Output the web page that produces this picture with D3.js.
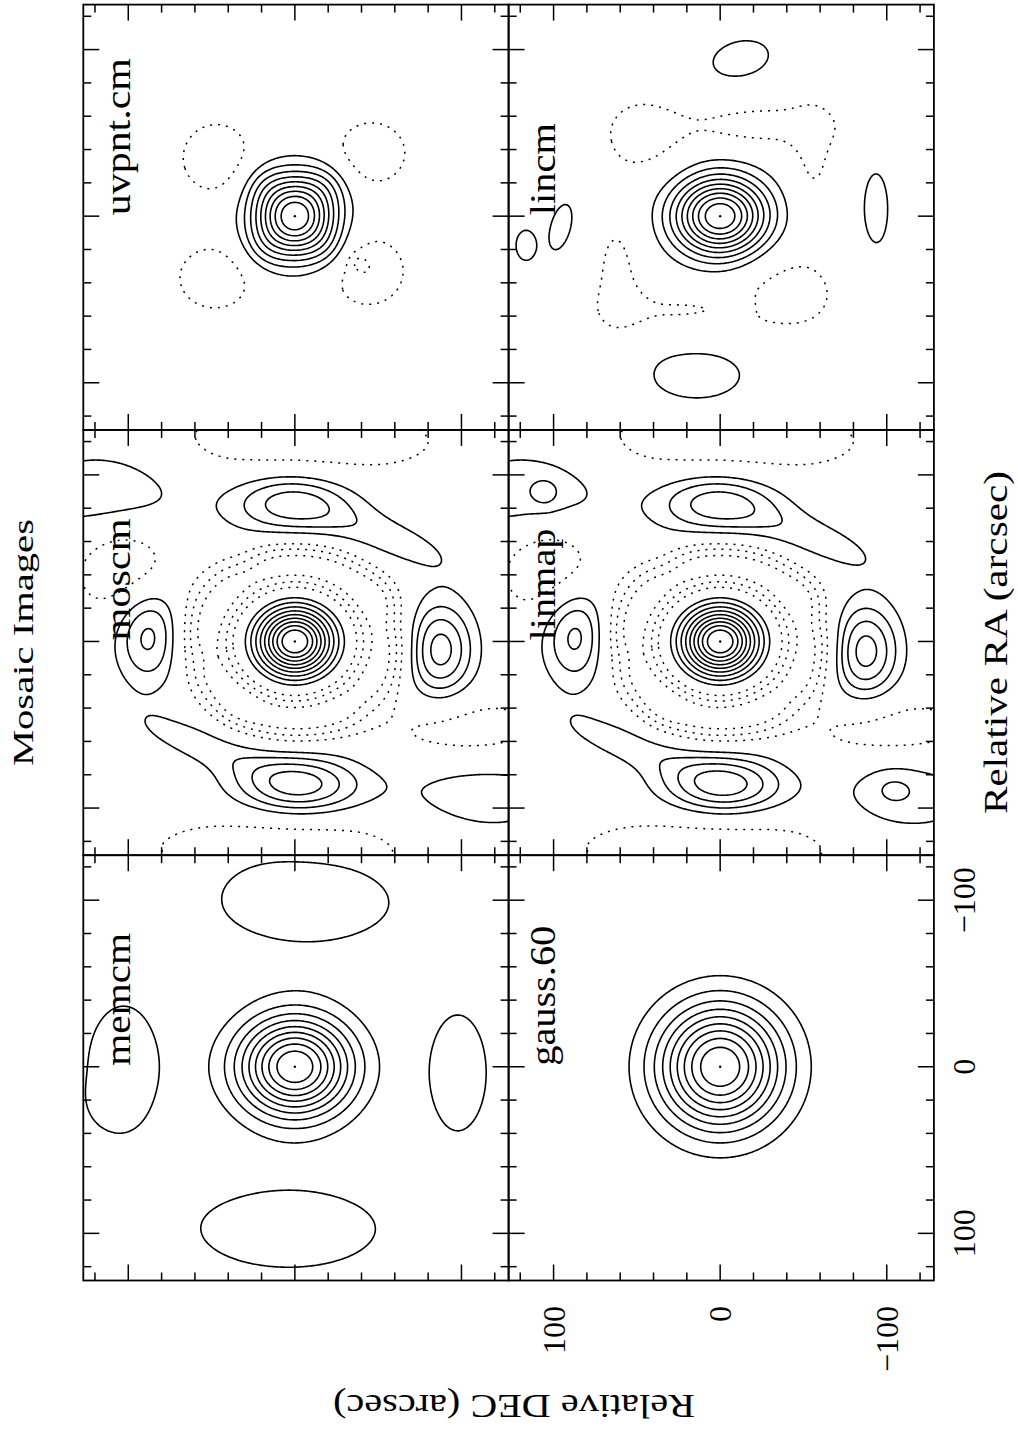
<!DOCTYPE html>
<html>
<head>
<meta charset="utf-8">
<script src="https://cdn.jsdelivr.net/npm/d3@7"></script>
<style>
  html, body { margin: 0; padding: 0; background: #fff; }
  svg { display: block; }
</style>
</head>
<body>
<svg id="chart" width="1018" height="1429"></svg>
<script>
// ---------------------------------------------------------------
// Data
// ---------------------------------------------------------------
const titleText = "Mosaic Images";
const xLabel = "Relative RA (arcsec)";
const yLabel = "Relative DEC (arcsec)";

// Panel names, top row then bottom row, left to right
const panelNames = ["memcm", "moscm", "uvpnt.cm", "gauss.60", "linmap", "lincm"];

// Contour levels, as fractions of the peak
const contourLevels = [-0.3, -0.2, -0.1, 0.1, 0.2, 0.3, 0.4, 0.5, 0.6, 0.7, 0.8, 0.9];

// Axis ticks (arcsec)
const minorTicks = [-120, -100, -80, -60, -40, -20, 0, 20, 40, 60, 80, 100, 120];
const majorTicks = [-100, 0, 100];
const tickLabels = ["\u2212100", "0", "100"];

// Map extent (arcsec), left-to-right / top-to-bottom
const raExtent = [128.3, -127.0];
const decExtent = [127.0, -128.3];

// Emission components: [RA, DEC, amplitude, FWHM x', FWHM y', rotation deg]
const memcmComponents = [
  [0, 0, 1.0, 48, 55, 0],
  [-98.7, -8, 0.15, 61, 126, 0],
  [-106, 18, 0.03, 26, 36, 0],
  [97.4, 3.8, 0.15, 60, 136, 0],
  [0, 103, 0.15, 94, 55, 0],
  [22, 112, 0.04, 24, 24, 0],
  [3.5, -98, 0.15, 89, 44, 0]
];
const moscmComponents = [
  [0, 0, 1.02, 32, 36, 0],
  [-83, 2, 0.36, 32, 62, 0],
  [-62, -55, 0.15, 80, 24, -70],
  [-5, 88, 0.35, 52, 33, 0],
  [5, -87, 0.45, 48, 34, 0],
  [86, -2, 0.45, 30, 62, 0],
  [62, 55, 0.15, 80, 22, -70],
  [-89, 112, 0.2, 50, 80, 0],
  [89, -112, 0.17, 56, 92, 0],
  [-120, -5, -0.2, 40, 150, 0],
  [-45, 102, -0.25, 50, 50, 0],
  [55, -105, -0.22, 36, 90, 0],
  [124, 5, -0.2, 36, 150, 0],
  [-45, 30, 0.06, 20, 20, 0],
  [35, -40, 0.05, 20, 20, 0],
  [40, 35, -0.06, 22, 22, 0],
  [-30, -50, -0.05, 20, 20, 0],
  [10, 55, 0.05, 18, 18, 0],
  [-10, -60, 0.05, 18, 18, 0]
];
const uvpntComponents = [
  [0, 0, 1.0, 40, 40, 0],
  [-20, 20, 0.09, 24, 24, 0],
  [20, 20, 0.09, 24, 24, 0],
  [-20, -20, 0.1, 24, 24, 0],
  [20, -20, 0.09, 24, 24, 0],
  [-35, 47, -0.2, 40, 40, 0],
  [-38, -46, -0.2, 36, 40, 0],
  [37, 48, -0.2, 36, 42, 0],
  [33, -44, -0.2, 40, 42, 0],
  [27, -37, -0.08, 10, 10, 0]
];
const gaussComponents = [
  [0, 0, 1.0, 60, 60, 0]
];
const linmapComponents = [
  [0, 0, 1.02, 32, 36, 0],
  [-83, 2, 0.36, 32, 62, 0],
  [-62, -55, 0.15, 80, 24, -70],
  [-5, 87, 0.35, 52, 33, 0],
  [6, -87, 0.45, 48, 34, 0],
  [86, -2, 0.46, 30, 60, 0],
  [62, 55, 0.15, 80, 22, -70],
  [-89, 112, 0.2, 50, 80, 0],
  [-89, 105, 0.1, 14, 14, 0],
  [89, -113, 0.17, 56, 80, 0],
  [87.5, -103, 0.08, 22, 26, 0],
  [-120, -5, -0.2, 40, 150, 0],
  [-45, 102, -0.25, 50, 50, 0],
  [55, -105, -0.22, 36, 90, 0],
  [124, 5, -0.2, 36, 150, 0],
  [-45, 32, 0.06, 20, 20, 0],
  [35, -42, 0.05, 20, 20, 0],
  [42, 35, -0.06, 22, 22, 0],
  [-30, -50, -0.05, 20, 20, 0],
  [10, 57, 0.05, 18, 18, 0],
  [-12, -60, 0.05, 18, 18, 0]
];
const lincmComponents = [
  [0, 0, 1.0, 38.5, 46, 0],
  [-94.4, -12.3, 0.13, 55, 34, 77],
  [-4, -93.5, 0.13, 70, 23, 0],
  [6.5, 95.7, 0.2, 28, 12, 15],
  [17.5, 116.5, 0.2, 18, 12, 0],
  [94, 14, 0.13, 49, 88, 0],
  [-49, 47, -0.16, 40, 42, 0],
  [-55, -24, -0.15, 24, 84, 0],
  [-35, -56, -0.12, 56, 22, 0],
  [34, 62, -0.13, 70, 26, 0],
  [58, 24, -0.13, 26, 84, 0],
  [46, -43, -0.15, 46, 54, 0],
  [54, -13, 0.07, 16, 14, 0]
];

// Negative annuli around the central source: [RA radius, DEC radius, depth, width]
const moscmRings = [[46, 53, -0.38, 11]];
const linmapRings = [[46, 53, -0.38, 11]];

const panelModels = [
  { comps: memcmComponents, rings: [] },
  { comps: moscmComponents, rings: moscmRings },
  { comps: uvpntComponents, rings: [] },
  { comps: gaussComponents, rings: [] },
  { comps: linmapComponents, rings: linmapRings },
  { comps: lincmComponents, rings: [] }
];

// ---------------------------------------------------------------
// Layout (landscape frame, rotated onto the page)
// ---------------------------------------------------------------
const PAGE_W = 1018, PAGE_H = 1429;
const frame = { left: 148.5, top: 83.3, size: 425.3 };
const serif = "'Liberation Serif', 'DejaVu Serif', serif";
// drawn widths of the panel names (px)
const nameWidths = { "memcm": 133, "moscm": 122, "uvpnt.cm": 157, "gauss.60": 140, "linmap": 112, "lincm": 92 };

const svg = d3.select("#chart");
svg.append("rect").attr("width", PAGE_W).attr("height", PAGE_H).attr("fill", "#fff");

const root = svg.append("g")
  .attr("transform", `translate(0,${PAGE_H}) rotate(-90)`);

// Grid used to sample each map
const gridMin = -140, gridStep = 1;
const gridN = Math.round((140 - gridMin) / gridStep) + 1;

function modelValue(model, ra, dec) {
  let s = 0;
  for (const [r0, d0, a, fx, fy, rot] of model.comps) {
    const t = rot * Math.PI / 180;
    const dx = ra - r0, dy = dec - d0;
    const xp = dx * Math.cos(t) + dy * Math.sin(t);
    const yp = -dx * Math.sin(t) + dy * Math.cos(t);
    s += a * Math.exp(-4 * Math.LN2 * (xp * xp / (fx * fx) + yp * yp / (fy * fy)));
  }
  for (const [rr, rd, depth, w] of model.rings) {
    const rho = Math.hypot(ra / rr, dec / rd);
    const d = (rho - 1) * (rr + rd) / 2;
    s += depth * Math.exp(-d * d / (2 * w * w));
  }
  return s;
}

panelNames.forEach((name, i) => {
  const col = i % 3, row = Math.floor(i / 3);
  const u0 = frame.left + col * frame.size;
  const v0 = frame.top + row * frame.size;
  const S = frame.size;

  const xs = d3.scaleLinear().domain(raExtent).range([u0, u0 + S]);
  const ys = d3.scaleLinear().domain(decExtent).range([v0, v0 + S]);

  const model = panelModels[i];
  const values = new Float64Array(gridN * gridN);
  let best = -Infinity, bestIdx = 0;
  for (let j = 0; j < gridN; j++) {
    const dec = gridMin + j * gridStep;
    for (let k = 0; k < gridN; k++) {
      const ra = gridMin + k * gridStep;
      const v = modelValue(model, ra, dec);
      values[j * gridN + k] = v;
      if (v > best) { best = v; bestIdx = j * gridN + k; }
    }
  }

  const contours = d3.contours().size([gridN, gridN]).thresholds(contourLevels)(values);

  const proj = d3.geoTransform({
    point: function (x, y) {
      this.stream.point(xs(gridMin + (x - 0.5) * gridStep), ys(gridMin + (y - 0.5) * gridStep));
    }
  });
  const path = d3.geoPath(proj);

  const clipId = "clip" + i;
  root.append("clipPath").attr("id", clipId)
    .append("rect").attr("x", u0).attr("y", v0).attr("width", S).attr("height", S);

  const g = root.append("g").attr("clip-path", `url(#${clipId})`);
  g.selectAll("path")
    .data(contours)
    .join("path")
    .attr("d", path)
    .attr("fill", "none")
    .attr("stroke", "#000")
    .attr("stroke-width", d => d.value < 0 ? 1.5 : 1.6)
    .attr("stroke-linejoin", "round")
    .attr("stroke-dasharray", d => d.value < 0 ? "2,6" : null);

  // peak marker
  const pk = { ra: gridMin + (bestIdx % gridN) * gridStep, dec: gridMin + Math.floor(bestIdx / gridN) * gridStep };
  g.append("circle").attr("cx", xs(pk.ra)).attr("cy", ys(pk.dec)).attr("r", 1.2).attr("fill", "#000");

  // frame
  root.append("rect")
    .attr("x", u0).attr("y", v0).attr("width", S).attr("height", S)
    .attr("fill", "none").attr("stroke", "#000").attr("stroke-width", 1.8);

  // ticks on all four sides, pointing inwards
  const tg = root.append("g").attr("stroke", "#000").attr("stroke-width", 1.5);
  minorTicks.forEach(t => {
    const len = majorTicks.includes(t) ? 16 : 8;
    const u = xs(t), v = ys(t);
    tg.append("line").attr("x1", u).attr("x2", u).attr("y1", v0).attr("y2", v0 + len);
    tg.append("line").attr("x1", u).attr("x2", u).attr("y1", v0 + S).attr("y2", v0 + S - len);
    tg.append("line").attr("y1", v).attr("y2", v).attr("x1", u0).attr("x2", u0 + len);
    tg.append("line").attr("y1", v).attr("y2", v).attr("x1", u0 + S).attr("x2", u0 + S - len);
  });

  // panel name
  root.append("text")
    .attr("x", xs(0) + 1).attr("y", v0 + 46.6)
    .attr("font-family", serif).attr("font-size", 35)
    .attr("textLength", nameWidths[name]).attr("lengthAdjust", "spacingAndGlyphs")
    .text(name);

  // tick labels on the lower-left panel
  if (col === 0 && row === 1) {
    majorTicks.forEach((t, k) => {
      root.append("text")
        .attr("x", xs(t)).attr("y", v0 + S + 41)
        .attr("text-anchor", "middle")
        .attr("font-family", serif).attr("font-size", 32)
        .text(tickLabels[k]);
      root.append("text")
        .attr("x", u0 - 25.5).attr("y", ys(t) + 11)
        .attr("text-anchor", "end")
        .attr("font-family", serif).attr("font-size", 32)
        .text(tickLabels[k]);
    });
  }
});

// Title and axis labels
const midU = frame.left + 1.5 * frame.size;
root.append("text")
  .attr("x", midU).attr("y", 33.3)
  .attr("text-anchor", "middle")
  .attr("font-family", serif).attr("font-size", 29.5)
  .attr("textLength", 247).attr("lengthAdjust", "spacingAndGlyphs")
  .text(titleText);

root.append("text")
  .attr("x", midU).attr("y", 1007)
  .attr("text-anchor", "middle")
  .attr("font-family", serif).attr("font-size", 33)
  .attr("textLength", 343).attr("lengthAdjust", "spacingAndGlyphs")
  .text(xLabel);

root.append("text")
  .attr("transform", "translate(34,514) rotate(-90)")
  .attr("text-anchor", "middle")
  .attr("font-family", serif).attr("font-size", 33)
  .attr("textLength", 362).attr("lengthAdjust", "spacingAndGlyphs")
  .text(yLabel);
</script>
</body>
</html>
